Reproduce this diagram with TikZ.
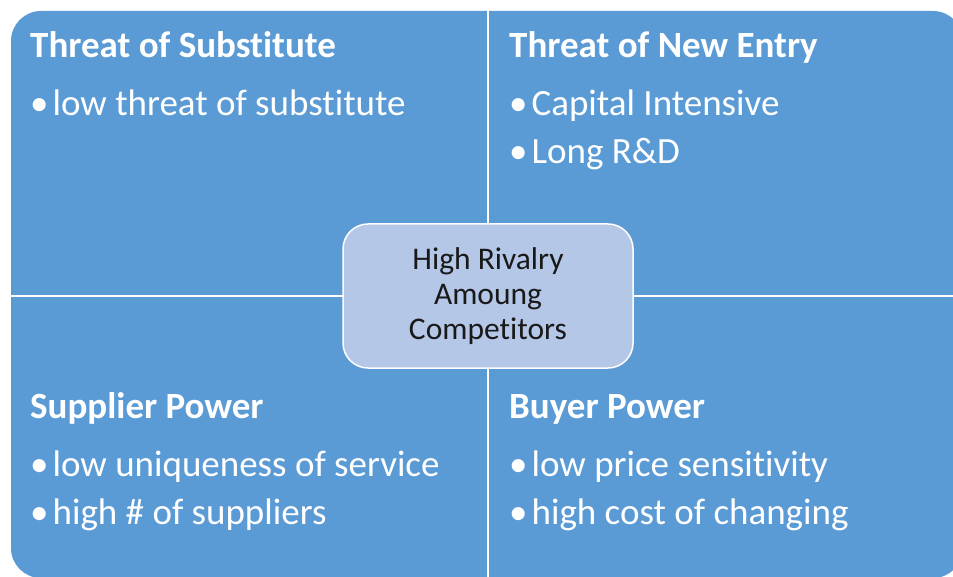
\documentclass[tikz,border=0pt]{standalone}
\usepackage{fontspec}
\setmainfont[Ligatures=NoCommon]{Carlito}

\definecolor{quadblue}{HTML}{5B9BD5}
\definecolor{hubblue}{HTML}{B4C7E7}

\tikzset{
  quadtitle/.style={anchor=base west, inner sep=0pt, text=white,
    font=\fontsize{37}{44}\selectfont\bfseries},
  bulletline/.style={anchor=base west, inner sep=0pt, text=white,
    font=\fontsize{37}{44}\selectfont},
  hub/.style={draw=white, line width=1.5pt, fill=hubblue, rounded corners=25pt,
    minimum width=290pt, minimum height=144pt, align=center, text=black!90,
    font=\fontsize{31.5}{35}\selectfont}
}

\begin{document}
\begin{tikzpicture}[x=1pt,y=-1pt]
  \clip (0,0) rectangle (953,577);
  \fill[white] (0,0) rectangle (953,577);

  % the four forces share one rounded block, split by white lines
  \fill[quadblue, rounded corners=30pt] (11,11) rectangle (963,578);
  \draw[white, line width=2.5pt] (488,0) -- (488,600);
  \draw[white, line width=2.5pt] (0,296) -- (980,296);

  \node[quadtitle] (substTitle) at (30,58) {Threat of Substitute};
  \node[bulletline] (subst1) at (30,116) {•\hspace{4pt}low threat of substitute};

  \node[quadtitle] (entryTitle) at (509,58) {Threat of New Entry};
  \node[bulletline] (entry1) at (509,116) {•\hspace{4pt}Capital Intensive};
  \node[bulletline] (entry2) at (509,164) {•\hspace{4pt}Long R\&D};

  \node[quadtitle] (supplierTitle) at (30,418) {Supplier Power};
  \node[bulletline] (supplier1) at (30,476) {•\hspace{4pt}low uniqueness of service};
  \node[bulletline] (supplier2) at (30,524) {•\hspace{4pt}high \# of suppliers};

  \node[quadtitle] (buyerTitle) at (509,418) {Buyer Power};
  \node[bulletline] (buyer1) at (509,476) {•\hspace{4pt}low price sensitivity};
  \node[bulletline] (buyer2) at (509,524) {•\hspace{4pt}high cost of changing};

  % rivalry sits on the crossing
  \node[hub] (rivalry) at (488,296) {High Rivalry\\Amoung\\Competitors};
\end{tikzpicture}
\end{document}
